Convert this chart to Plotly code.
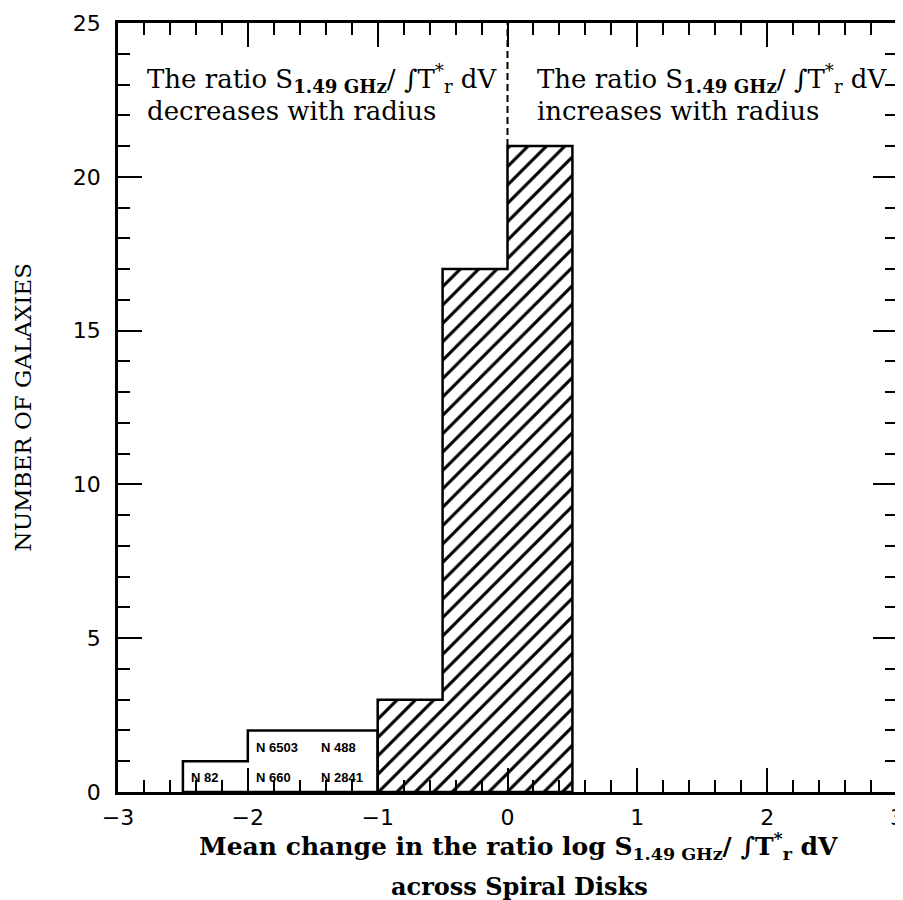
import plotly.graph_objects as go

# Data
bin_edges = [-2.5, -2.0, -1.5, -1.0, -0.5, 0.0, 0.5]
counts = [1, 2, 2, 3, 17, 21]
hatched = [False, False, False, True, True, True]
galaxy_labels = ["N 82", "N 660", "N 2841", "N 6503", "N 488"]
x_ticks = [-3, -2, -1, 0, 1, 2, 3]
x_ticklabels = ["\u22123", "\u22122", "\u22121", "0", "1", "2", "3"]
y_ticks = [0, 5, 10, 15, 20, 25]


def step_polygon(idx):
    xs = [bin_edges[idx[0]]]
    ys = [0]
    for i in idx:
        xs += [bin_edges[i], bin_edges[i + 1]]
        ys += [counts[i], counts[i]]
    xs += [bin_edges[idx[-1] + 1], bin_edges[idx[0]]]
    ys += [0, 0]
    return xs, ys


fig = go.Figure()

plain_idx = [i for i, h in enumerate(hatched) if not h]
hatch_idx = [i for i, h in enumerate(hatched) if h]

hx, hy = step_polygon(hatch_idx)
fig.add_trace(go.Scatter(x=hx, y=hy, mode="lines", fill="toself",
                         fillcolor="white",
                         fillpattern=dict(shape="/", size=13, solidity=0.24,
                                          fgcolor="black", bgcolor="white",
                                          fgopacity=1),
                         line=dict(color="black", width=2.5),
                         showlegend=False, hoverinfo="skip"))

px_, py_ = step_polygon(plain_idx)
fig.add_trace(go.Scatter(x=px_, y=py_, mode="lines",
                         line=dict(color="black", width=2.5),
                         showlegend=False, hoverinfo="skip"))

# dashed separator at x=0 above tallest bar
fig.add_trace(go.Scatter(x=[0, 0], y=[counts[5], 25], mode="lines",
                         line=dict(color="black", width=2, dash="7px,4px"),
                         showlegend=False, hoverinfo="skip"))

serif = "DejaVu Serif"
ratio_txt = "The ratio S<sub><b>1.49 GHz</b></sub>/ \u222bT<sup>*</sup><sub>r</sub> dV"

annots = [
    dict(x=-2.79, y=23.2, text=ratio_txt),
    dict(x=-2.79, y=22.15, text="decreases with radius"),
    dict(x=0.21, y=23.2, text=ratio_txt),
    dict(x=0.21, y=22.15, text="increases with radius"),
]
for a in annots:
    fig.add_annotation(xref="x", yref="y", showarrow=False, xanchor="left",
                       yanchor="middle",
                       font=dict(family=serif, size=26, color="black"), **a)

lab_pos = [(-2.45, 0.47), (-1.95, 0.47), (-1.45, 0.47), (-1.95, 1.45), (-1.45, 1.45)]
for t, (lx, ly) in zip(galaxy_labels, lab_pos):
    fig.add_annotation(x=lx, y=ly, text="<b>" + t + "</b>", showarrow=False,
                       xanchor="left", yanchor="middle",
                       font=dict(family="Liberation Sans", size=13, color="black"))

# x-axis title lines
fig.add_annotation(xref="paper", yref="paper", x=0.514, y=0, yanchor="middle",
                   yshift=-54, showarrow=False,
                   text="<b>Mean change in the ratio log S<sub>1.49 GHz</sub>/ \u222bT<sup>*</sup><sub>r</sub> dV</b>",
                   font=dict(family=serif, size=25, color="black"))
fig.add_annotation(xref="paper", yref="paper", x=0.516, y=0, yanchor="middle",
                   yshift=-94, showarrow=False, text="<b>across Spiral Disks</b>",
                   font=dict(family=serif, size=24, color="black"))
# y-axis title
fig.add_annotation(xref="paper", yref="paper", x=-0.122, y=0.5, textangle=-90,
                   xanchor="center", yanchor="middle", showarrow=False,
                   text="NUMBER OF GALAXIES",
                   font=dict(family=serif, size=23, color="black"))

axis_common = dict(showgrid=False, zeroline=False, showline=True, linecolor="black",
                   linewidth=2.5, mirror="ticks", ticks="inside", tickcolor="black",
                   tickwidth=2, ticklen=24, automargin=False,
                   tickfont=dict(family="DejaVu Sans", size=22, color="black"))

fig.update_xaxes(range=[-3, 3], tickvals=x_ticks, ticktext=x_ticklabels,
                 minor=dict(dtick=0.2, ticks="inside", ticklen=12, tickcolor="black",
                            tickwidth=2, showgrid=False),
                 ticklabelstandoff=4,
                 **axis_common)
fig.update_yaxes(range=[0, 25], tickvals=y_ticks,
                 minor=dict(dtick=1, ticks="inside", ticklen=12, tickcolor="black",
                            tickwidth=2, showgrid=False),
                 ticklabelstandoff=10,
                 **axis_common)

fig.update_layout(width=903, height=900, plot_bgcolor="white", paper_bgcolor="white",
                  margin=dict(l=110, r=14, t=15, b=116), showlegend=False)

fig.write_html("out.html")
